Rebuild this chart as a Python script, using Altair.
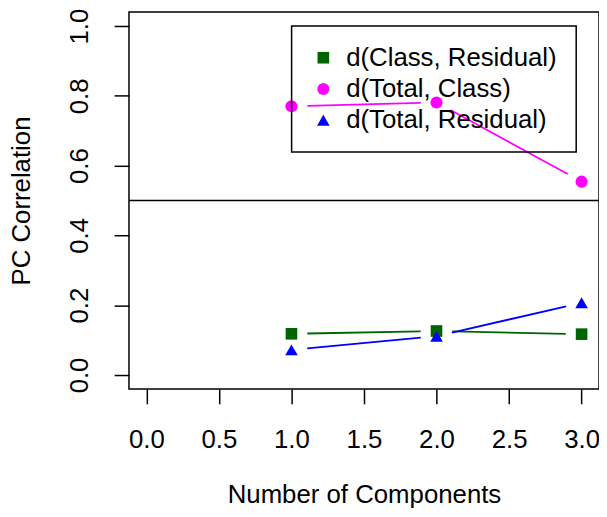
import math
import altair as alt
import pandas as pd

# ---- data ----
components = [1, 2, 3]
class_residual = [0.118, 0.126, 0.117]
total_class = [0.770, 0.781, 0.554]
total_residual = [0.072, 0.111, 0.207]
series_names = ["d(Class, Residual)", "d(Total, Class)", "d(Total, Residual)"]
series_colors = ["#006400", "#FF00FF", "#0000FF"]
series_shapes = ["square", "circle", "triangle-up"]
series_sizes = [137, 161, 225]
x_ticks = [0, 0.5, 1, 1.5, 2, 2.5, 3]
y_ticks = [0, 0.2, 0.4, 0.6, 0.8, 1.0]
cutoff = [0.5]

# ---- layout ----
W, H = 474, 380
XD = [-0.12, 3.12]
YD = [-0.04, 1.04]
GAP = 16  # px gap around points (R type="b")
FONT = "Liberation Sans"
FS = 26

rows = []
for name, vals in zip(series_names, [class_residual, total_class, total_residual]):
    for x, y in zip(components, vals):
        rows.append({"series": name, "x": x, "y": y})
points = pd.DataFrame(rows)

# line segments with gaps around the points
sx = W / (XD[1] - XD[0])
sy = H / (YD[1] - YD[0])
seg_rows = []
for name, vals in zip(series_names, [class_residual, total_class, total_residual]):
    for i in range(len(components) - 1):
        x0, y0 = components[i], vals[i]
        x1, y1 = components[i + 1], vals[i + 1]
        L = math.hypot((x1 - x0) * sx, (y1 - y0) * sy)
        f = GAP / L
        seg_rows.append({
            "series": name,
            "xa": x0 + (x1 - x0) * f, "ya": y0 + (y1 - y0) * f,
            "xb": x1 - (x1 - x0) * f, "yb": y1 - (y1 - y0) * f,
        })
segs = pd.DataFrame(seg_rows)

xscale = alt.Scale(domain=XD, nice=False, zero=False)
yscale = alt.Scale(domain=YD, nice=False, zero=False)
cscale = alt.Scale(domain=series_names, range=series_colors)
sscale = alt.Scale(domain=series_names, range=series_shapes)
zscale = alt.Scale(domain=series_names, range=series_sizes)
legend = alt.Legend(orient="none", legendX=164, legendY=14)

xaxis = alt.Axis(values=x_ticks, format=".1f", title="Number of Components",
                 tickSize=15, labelPadding=23, labelFlush=False, labelOverlap=False,
                 titleX=237, titleY=107, titleBaseline="middle", titleAnchor="middle")
yaxis = alt.Axis(values=y_ticks, format=".1f", title="PC Correlation",
                 tickSize=15, labelAngle=270, labelAlign="center", labelBaseline="bottom",
                 labelPadding=22, labelFlush=False, labelOverlap=False,
                 titleX=-108, titleY=190, titleAngle=270, titleBaseline="middle",
                 titleAlign="center")

lines = alt.Chart(segs).mark_rule(strokeWidth=1.8).encode(
    x=alt.X("xa:Q", scale=xscale, axis=xaxis),
    x2="xb:Q",
    y=alt.Y("ya:Q", scale=yscale, axis=yaxis),
    y2="yb:Q",
    color=alt.Color("series:N", scale=cscale, title=None, legend=legend),
)

hline = alt.Chart(pd.DataFrame({"c": cutoff})).mark_rule(color="black", strokeWidth=1.5).encode(
    y=alt.Y("c:Q", scale=yscale),
)

pts = alt.Chart(points).mark_point(filled=True, opacity=1, strokeWidth=0).encode(
    x=alt.X("x:Q", scale=xscale),
    y=alt.Y("y:Q", scale=yscale),
    color=alt.Color("series:N", scale=cscale, title=None, legend=legend),
    shape=alt.Shape("series:N", scale=sscale, title=None, legend=legend),
    size=alt.Size("series:N", scale=zscale, title=None, legend=legend),
)

chart = alt.layer(lines, hline, pts).properties(
    width=W, height=H,
    background="white",
    autosize=alt.AutoSizeParams(type="none"),
    padding={"left": 122, "top": 2, "right": 0, "bottom": 125},
).configure_view(
    stroke="black", strokeWidth=1.5
).configure_axis(
    grid=False, domain=False, tickColor="black", tickWidth=1.5,
    labelFont=FONT, labelFontSize=FS, labelColor="black",
    titleFont=FONT, titleFontSize=FS, titleColor="black", titleFontWeight="normal",
).configure_legend(
    strokeColor="black", strokeWidth=1.5, padding=19,
    labelFont=FONT, labelFontSize=FS, labelColor="black", labelLimit=400,
    labelOffset=10, rowPadding=5.5, symbolStrokeWidth=0,
)

chart.save("out.html", embed_options={"renderer": "svg", "actions": False})
